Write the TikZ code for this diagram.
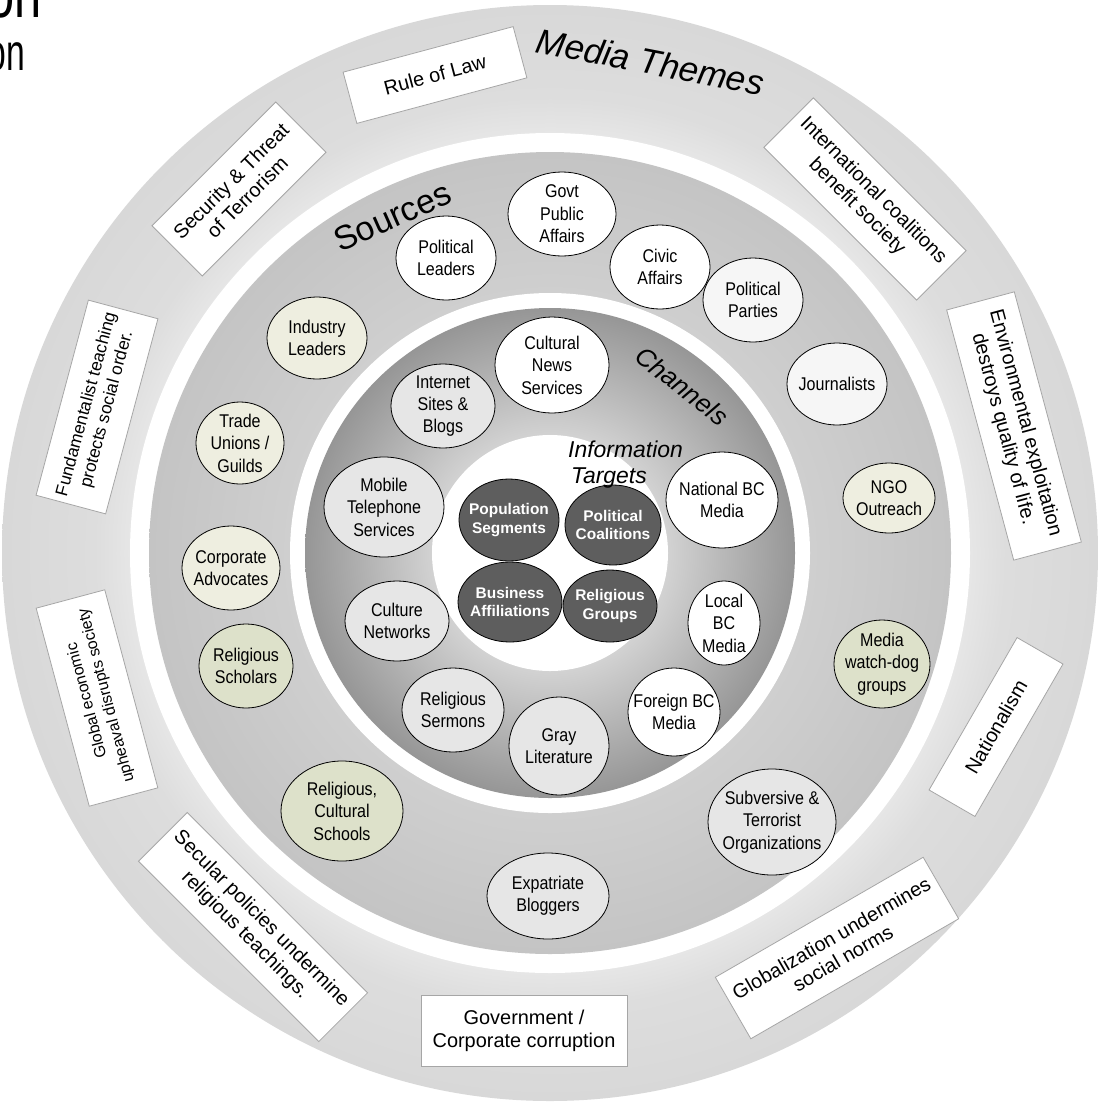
\documentclass[tikz,border=0pt]{standalone}
\usepackage{fontspec}
\setmainfont{Liberation Sans}
\newfontfamily\nfont[FakeStretch=0.87]{Liberation Sans}
\newfontfamily\tfontA[FakeStretch=0.72]{Liberation Sans}
\newfontfamily\tfontB[FakeStretch=0.65]{Liberation Sans}
\usetikzlibrary{shapes.geometric}
\definecolor{ringIn}{HTML}{E6E6E6}
\definecolor{ringMid}{HTML}{DDDDDD}
\definecolor{ringOut}{HTML}{D8D8D8}
\definecolor{srcIn}{HTML}{CFCFCF}
\definecolor{srcOut}{HTML}{C4C4C4}
\definecolor{chIn}{HTML}{D2D2D2}
\definecolor{chOut}{HTML}{969696}
\definecolor{boxgray}{HTML}{A6A6A6}
\definecolor{tgtgray}{HTML}{5E5E5E}
\definecolor{elgray}{HTML}{E6E6E6}
\definecolor{beige}{HTML}{EEEEE0}
\definecolor{olive}{HTML}{DDE1CA}
\definecolor{vlight}{HTML}{F6F6F6}
\pgfdeclareradialshading{outerring}{\pgfpoint{0bp}{0bp}}{color(0bp)=(ringIn); color(19.16bp)=(ringIn); color(20.8bp)=(ringMid); color(25bp)=(ringOut); color(50bp)=(ringOut)}
\pgfdeclareradialshading{srcring}{\pgfpoint{0bp}{0bp}}{color(0bp)=(srcIn); color(16.2bp)=(srcIn); color(25bp)=(srcOut); color(50bp)=(srcOut)}
\pgfdeclareradialshading{chring}{\pgfpoint{0bp}{0bp}}{color(0bp)=(chIn); color(12.04bp)=(chIn); color(25bp)=(chOut); color(50bp)=(chOut)}
\tikzset{
  theme/.style={draw=boxgray, line width=0.8bp, fill=white, rectangle, inner sep=0pt, align=center, font=\fontsize{20}{23}\selectfont},
  ell/.style={ellipse, draw=black, line width=0.8bp, inner sep=0pt},
  lbl/.style={font=\nfont\fontsize{18.5}{22.5}\selectfont, align=center, inner sep=0pt},
  tgt/.style={ellipse, draw=black, fill=tgtgray, line width=0.8bp, inner sep=0pt},
  tlbl/.style={font=\bfseries\fontsize{15.5}{19}\selectfont, text=white, align=center, inner sep=0pt},
}
\begin{document}
\begin{tikzpicture}[x=1bp, y=-1bp]
\fill[white] (0,0) rectangle (1099,1107);
\useasboundingbox (0,0) rectangle (1099,1107);
% title remnants
\node[anchor=base east, inner sep=0pt, font=\tfontA\fontsize{68}{68}\selectfont] (t1) at (42,17) {on};
\node[anchor=base east, inner sep=0pt, font=\tfontB\fontsize{52}{52}\selectfont] (t2) at (25,70) {on};
% rings
\shade[shading=outerring] (550,553) circle[radius=548];
\fill[white] (550,553) circle[radius=420];
\shade[shading=srcring] (550,553) circle[radius=401];
\fill[white] (550,553) circle[radius=260];
\shade[shading=chring] (550,553) circle[radius=245];
\fill[white] (550,553) circle[radius=118];
% ring titles
\node[anchor=base, inner sep=0pt, rotate=-11, font=\itshape\fontsize{35}{35}\selectfont] (mt) at (648,74) {Media Themes};
\node[anchor=base, inner sep=0pt, rotate=24, font=\fontsize{34}{34}\selectfont] (src) at (397,227) {Sources};
\node[inner sep=0pt, rotate=-38, font=\itshape\fontsize{26}{26}\selectfont] (chn) at (682,386) {Channels};
% theme boxes
\node[theme, minimum width=176bp, minimum height=53bp, rotate=15] (rule) at (435,75) {Rule of Law};
\node[theme, minimum width=216bp, minimum height=70bp, rotate=-45] (intl) at (865,199) {International coalitions\\benefit society};
\node[theme, minimum width=259bp, minimum height=70bp, rotate=-75] (env) at (1014,426) {Environmental exploitation\\destroys quality of life.};
\node[theme, minimum width=176bp, minimum height=53bp, rotate=60] (nat) at (996,727) {Nationalism};
\node[theme, minimum width=240bp, minimum height=71bp, rotate=30] (glob) at (837,948) {Globalization undermines\\social norms};
\node[theme, minimum width=206bp, minimum height=71bp] (gov) at (524,1031) {Government /\\Corporate corruption};
\node[theme, minimum width=255bp, minimum height=69bp, rotate=-45] (secul) at (253,927) {Secular policies undermine\\religious teachings.};
\node[theme, minimum width=205bp, minimum height=71bp, rotate=105, font=\fontsize{16}{20}\selectfont] (gecon) at (97,698) {Global economic\\upheaval disrupts society};
\node[theme, minimum width=202bp, minimum height=72bp, rotate=75, font=\fontsize{17.5}{21}\selectfont] (fund) at (97,407) {Fundamentalist teaching\\protects social order.};
\node[theme, minimum width=175bp, minimum height=71bp, rotate=45] (secur) at (239,189) {Security \& Threat\\of Terrorism};
% sources
\node[ell, fill=white, minimum width=108bp, minimum height=84bp, label={[lbl]center:Govt\\Public\\Affairs}] (govt) at (562,214) {};
\node[ell, fill=white, minimum width=100bp, minimum height=84bp, label={[lbl]center:Civic\\Affairs}] (civic) at (660,267) {};
\node[ell, fill=vlight, minimum width=100bp, minimum height=84bp, label={[lbl]center:Political\\Parties}] (parties) at (753,300) {};
\node[ell, fill=vlight, minimum width=100bp, minimum height=82bp, label={[lbl]center:Journalists}] (journ) at (837,384) {};
\node[ell, fill=beige, minimum width=92bp, minimum height=70bp, label={[lbl]center:NGO\\Outreach}] (ngo) at (889,498) {};
\node[ell, fill=olive, minimum width=96bp, minimum height=88bp, label={[lbl]center:Media\\watch-dog\\groups}] (watch) at (882,664) {};
\node[ell, fill=elgray, minimum width=128bp, minimum height=106bp, label={[lbl]center:Subversive \&\\Terrorist\\Organizations}] (subv) at (772,822) {};
\node[ell, fill=elgray, minimum width=122bp, minimum height=86bp, label={[lbl]center:Expatriate\\Bloggers}] (expat) at (548,896) {};
\node[ell, fill=olive, minimum width=122bp, minimum height=100bp, label={[lbl]center:Religious,\\Cultural\\Schools}] (rschools) at (342,811) {};
\node[ell, fill=olive, minimum width=94bp, minimum height=84bp, label={[lbl]center:Religious\\Scholars}] (rscholars) at (246,666) {};
\node[ell, fill=beige, minimum width=98bp, minimum height=84bp, label={[lbl]center:Corporate\\Advocates}] (corp) at (231,568) {};
\node[ell, fill=beige, minimum width=88bp, minimum height=82bp, label={[lbl]center:Trade\\Unions /\\Guilds}] (trade) at (240,443) {};
\node[ell, fill=beige, minimum width=100bp, minimum height=82bp, label={[lbl]center:Industry\\Leaders}] (industry) at (317,338) {};
\node[ell, fill=white, minimum width=100bp, minimum height=84bp, label={[lbl]center:Political\\Leaders}] (polead) at (446,258) {};
% channels
\node[ell, fill=white, minimum width=114bp, minimum height=96bp, label={[lbl]center:Cultural\\News\\Services}] (cultnews) at (552,365) {};
\node[ell, fill=elgray, minimum width=104bp, minimum height=84bp, label={[lbl]center:Internet\\Sites \&\\Blogs}] (internet) at (443,406) {};
\node[ell, fill=elgray, minimum width=120bp, minimum height=100bp, label={[lbl]center:Mobile\\Telephone\\Services}] (mobile) at (384,507) {};
\node[ell, fill=elgray, minimum width=104bp, minimum height=80bp, label={[lbl]center:Culture\\Networks}] (cnet) at (397,621) {};
\node[ell, fill=elgray, minimum width=102bp, minimum height=84bp, label={[lbl]center:Religious\\Sermons}] (sermons) at (453,710) {};
\node[ell, fill=elgray, minimum width=100bp, minimum height=98bp, label={[lbl]center:Gray\\Literature}] (grayl) at (559,746) {};
\node[ell, fill=white, minimum width=92bp, minimum height=88bp, label={[lbl]center:Foreign BC\\Media}] (foreign) at (674,712) {};
\node[ell, fill=white, minimum width=72bp, minimum height=84bp, label={[lbl]center:Local\\BC\\Media}] (local) at (724,623) {};
\node[ell, fill=white, minimum width=112bp, minimum height=96bp, label={[lbl]center:National BC\\Media}] (national) at (722,500) {};
% targets
\node[tgt, minimum width=100bp, minimum height=82bp, label={[tlbl]center:Population\\Segments}] (pop) at (509,520) {};
\node[tgt, minimum width=96bp, minimum height=80bp, label={[tlbl]center:Political\\Coalitions}] (polco) at (613,525) {};
\node[tgt, minimum width=104bp, minimum height=80bp, label={[tlbl]center:Business\\Affiliations}] (bus) at (510,602) {};
\node[tgt, minimum width=94bp, minimum height=72bp, label={[tlbl]center:Religious\\Groups}] (relg) at (610,606) {};
\node[anchor=base west, inner sep=0pt, font=\itshape\fontsize{23}{26}\selectfont] (info1) at (568,457) {Information};
\node[anchor=base west, inner sep=0pt, font=\itshape\fontsize{23}{26}\selectfont] (info2) at (571,483) {Targets};
\end{tikzpicture}
\end{document}
